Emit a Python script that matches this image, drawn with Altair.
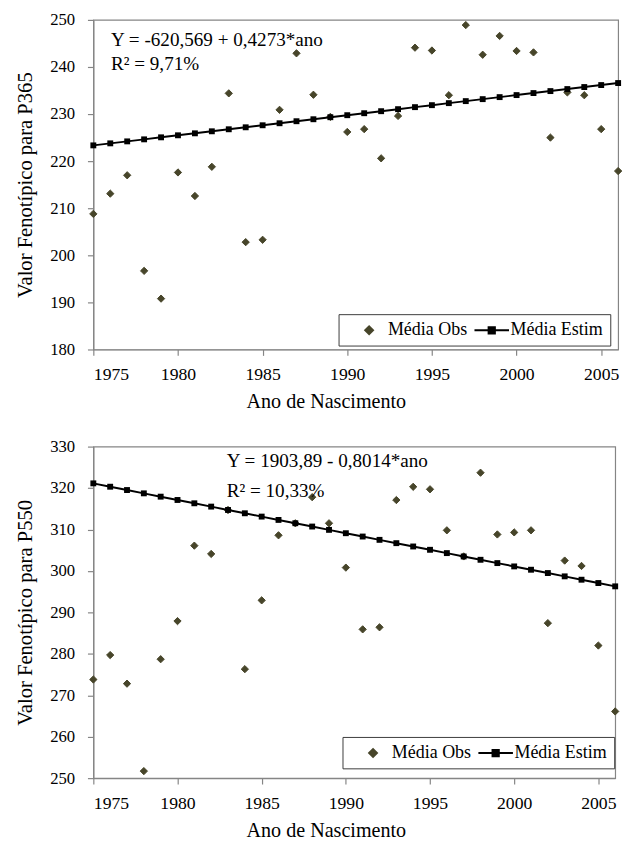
import altair as alt
import pandas as pd

# ---------------- data ----------------
anos = [1975, 1976, 1977, 1978, 1979, 1980, 1981, 1982, 1983, 1984, 1985,
        1986, 1987, 1988, 1989, 1990, 1991, 1992, 1993, 1994, 1995, 1996,
        1997, 1998, 1999, 2000, 2001, 2002, 2003, 2004, 2005, 2006]

obs_p365 = [208.8, 213.1, 217.0, 196.7, 190.8, 217.6, 212.6, 218.8, 234.4, 202.8, 203.3,
            230.9, 242.9, 234.1, 229.4, 226.2, 226.8, 220.6, 229.6, 244.1, 243.5, 234.0,
            248.9, 242.6, 246.6, 243.4, 243.1, 225.0, 234.6, 234.0, 226.8, 217.9]
est_p365 = [223.35, 223.78, 224.20, 224.63, 225.06, 225.49, 225.91, 226.34, 226.77, 227.19, 227.62,
            228.05, 228.48, 228.90, 229.33, 229.76, 230.18, 230.61, 231.04, 231.47, 231.89, 232.32,
            232.75, 233.17, 233.60, 234.03, 234.46, 234.88, 235.31, 235.74, 236.16, 236.59]

obs_p550 = [273.8, 279.7, 272.8, 251.7, 278.7, 287.9, 306.1, 304.1, 314.7, 276.3, 292.9,
            308.6, 311.5, 317.8, 311.5, 300.8, 285.9, 286.4, 317.1, 320.3, 319.7, 309.8,
            303.5, 323.7, 308.8, 309.3, 309.8, 287.4, 302.5, 301.2, 282.0, 266.1]
est_p550 = [321.13, 320.32, 319.52, 318.72, 317.92, 317.12, 316.32, 315.52, 314.71, 313.91, 313.11,
            312.31, 311.51, 310.71, 309.91, 309.10, 308.30, 307.50, 306.70, 305.90, 305.10, 304.30,
            303.49, 302.69, 301.89, 301.09, 300.29, 299.49, 298.69, 297.88, 297.08, 296.28]

x_ticks = [1975, 1980, 1985, 1990, 1995, 2000, 2005]
y_ticks_p365 = [180, 190, 200, 210, 220, 230, 240, 250]
y_ticks_p550 = [250, 260, 270, 280, 290, 300, 310, 320, 330]

series = ["Média Obs", "Média Estim"]
eq_p365 = ["Y = -620,569 + 0,4273*ano", "R² = 9,71%"]
eq_p550 = ["Y = 1903,89 - 0,8014*ano", "R² = 10,33%"]

# ---------------- style ----------------
FONT = "Liberation Serif"
OBS_COLOR = "#47452a"
AXIS_GRAY = "#858585"
LINE_SYMBOL = "M-4.4,0H4.4M-0.8,-0.8H0.8V0.8H-0.8Z"


def panel(obs, est, ytitle, ydomain, yticks, eq, w, h,
          tx, ty1, ty2, leg_x, leg_y, x_title_x):
    df_obs = pd.DataFrame({"ano": anos, "valor": obs, "serie": series[0]})
    df_est = pd.DataFrame({"ano": anos, "valor": est})

    xenc = alt.X("ano:Q",
                 scale=alt.Scale(domain=[1975, 2006], nice=False, zero=False),
                 axis=alt.Axis(values=x_ticks, format="d", title="Ano de Nascimento",
                               labelFontSize=18, tickSize=6, labelPadding=11,
                               titleFontSize=20.5, titlePadding=8,
                               titleX=x_title_x, titleAlign="center"))
    yenc = alt.Y("valor:Q",
                 scale=alt.Scale(domain=ydomain, nice=False, zero=False),
                 axis=alt.Axis(values=yticks, title=ytitle, labelFontSize=17,
                               tickSize=6, labelPadding=13, titleFontSize=21,
                               titlePadding=15))

    leg = alt.Legend(title=None, orient="none", legendX=leg_x, legendY=leg_y,
                     direction="horizontal", strokeColor="#3a3a3a", fillColor="white",
                     padding=7, symbolSize=64, symbolOffset=15, labelOffset=10,
                     columnPadding=0, labelFont=FONT, labelFontSize=18.3,
                     labelColor="black", symbolStrokeWidth=2)
    cscale = alt.Scale(domain=series, range=[OBS_COLOR, "black"])
    sscale = alt.Scale(domain=series, range=["diamond", LINE_SYMBOL])

    pts = alt.Chart(df_obs).mark_point(filled=True, size=55, strokeWidth=1, opacity=1).encode(
        x=xenc, y=yenc,
        color=alt.Color("serie:N", scale=cscale, legend=leg),
        stroke=alt.Stroke("serie:N", scale=cscale, legend=leg),
        shape=alt.Shape("serie:N", scale=sscale, legend=leg),
    )
    line = alt.Chart(df_est).mark_line(color="black", strokeWidth=2).encode(x=xenc, y=yenc)
    sq = alt.Chart(df_est).mark_point(shape="square", filled=True, size=36,
                                      color="black", opacity=1).encode(x=xenc, y=yenc)

    t1 = alt.Chart(pd.DataFrame({"t": [eq[0]]})).mark_text(
        align="left", baseline="alphabetic", font=FONT, fontSize=19.5, color="black"
    ).encode(text="t:N", x=alt.value(tx), y=alt.value(ty1))
    t2 = alt.Chart(pd.DataFrame({"t": [eq[1]]})).mark_text(
        align="left", baseline="alphabetic", font=FONT, fontSize=19.5, color="black"
    ).encode(text="t:N", x=alt.value(tx), y=alt.value(ty2))

    return alt.layer(pts, line, sq, t1, t2).properties(width=w, height=h)


top = panel(obs_p365, est_p365, "Valor Fenotípico para P365", [180, 250], y_ticks_p365,
            eq_p365, 535, 336, 18, 26.7, 50.7, 250, 300, 237)
bottom = panel(obs_p550, est_p550, "Valor Fenotípico para P550", [250, 330], y_ticks_p550,
               eq_p550, 532, 338, 136, 20.7, 51.7, 254, 296, 237)

chart = alt.vconcat(top, bottom, spacing=24).resolve_scale(
    color="independent", stroke="independent", shape="independent"
).resolve_legend(
    color="independent", stroke="independent", shape="independent"
).properties(
    padding={"left": 5, "top": -6, "right": 0, "bottom": -6}
).configure_view(
    stroke=AXIS_GRAY, strokeWidth=1.2
).configure_axis(
    domainColor=AXIS_GRAY, tickColor=AXIS_GRAY, domainWidth=1.2, tickWidth=1.2,
    labelFont=FONT, titleFont=FONT, labelColor="black", titleColor="black",
    titleFontWeight="normal", grid=False
)

chart.save("out.html", embed_options={"renderer": "svg", "actions": False})
